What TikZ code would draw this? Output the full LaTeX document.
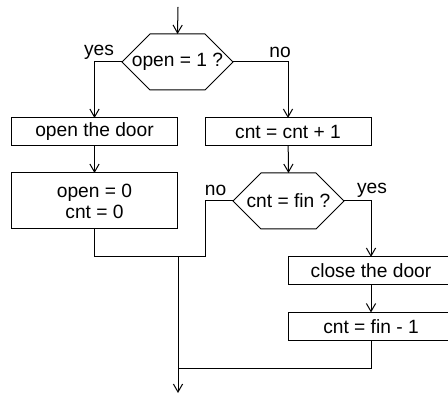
\documentclass[tikz,border=0pt]{standalone}
\usepackage{fontspec}
\setmainfont{Liberation Sans}
\usetikzlibrary{arrows.meta}

\begin{document}
\begin{tikzpicture}[x=0.5pt,y=-0.5pt,line width=0.5pt,
    >={Straight Barb[length=4pt,width=4.6pt]},
    font=\fontsize{9.6}{11.4}\selectfont,
    stepbox/.style={draw,rectangle,inner sep=0pt,outer sep=0pt,
        minimum width=83pt,minimum height=14pt,align=center},
    testbox/.style={inner sep=0pt,outer sep=0pt}]
    \useasboundingbox (0,0) rectangle (448,394);

    \coordinate (in)  at (178,7);
    \coordinate (out) at (178,393);

    \node[testbox] (q1) at (177.5,62) {open = 1 ?};
    \node[stepbox] (b1) at (94.5,132) {open the door};
    \node[stepbox] (b2) at (288,132) {cnt = cnt + 1};
    \node[stepbox,minimum height=28pt] (b3) at (94.5,201)
        {open = 0\\[-1pt]cnt = 0};
    \node[testbox] (q2) at (288.5,201) {cnt = fin ?};
    \node[stepbox] (b4) at (371,271) {close the door};
    \node[stepbox] (b5) at (371,326.5) {cnt = fin - 1};

    % hexagon outlines round the test nodes
    \foreach \q in {q1,q2} {
        \coordinate (\q t) at ([yshift=14pt]\q.center);
        \coordinate (\q l) at ([xshift=-27.75pt]\q.center);
        \coordinate (\q r) at ([xshift=27.75pt]\q.center);
        \draw ([xshift=-13.75pt,yshift=14pt]\q.center)
            -- ([xshift=13.75pt,yshift=14pt]\q.center) -- (\q r)
            -- ([xshift=13.75pt,yshift=-14pt]\q.center)
            -- ([xshift=-13.75pt,yshift=-14pt]\q.center) -- (\q l) -- cycle;
    }

    \coordinate (j1) at (178,256.5);
    \coordinate (c1) at (205,256.5);
    \coordinate (j2) at (178,368);

    \draw[->] (in) -- (q1t);
    \draw[->] (q1l) -| (b1.north);
    \draw[->] (q1r) -| (b2.north);
    \draw[->] (b1) -- (b3);
    \draw[->] (b2) -- (q2t);
    \draw (b3.south) |- (j1);
    \draw (q2l) -| (c1) -- (j1);
    \draw[->] (q2r) -| (b4.north);
    \draw[->] (b4) -- (b5);
    \draw (b5.south) |- (j2);
    \draw[->] (j1) -- (out);

    \node (yes1) at (99,52) {yes};
    \node (no1)  at (280,52) {no};
    \node (no2)  at (215.5,190) {no};
    \node (yes2) at (372,190) {yes};
\end{tikzpicture}
\end{document}
